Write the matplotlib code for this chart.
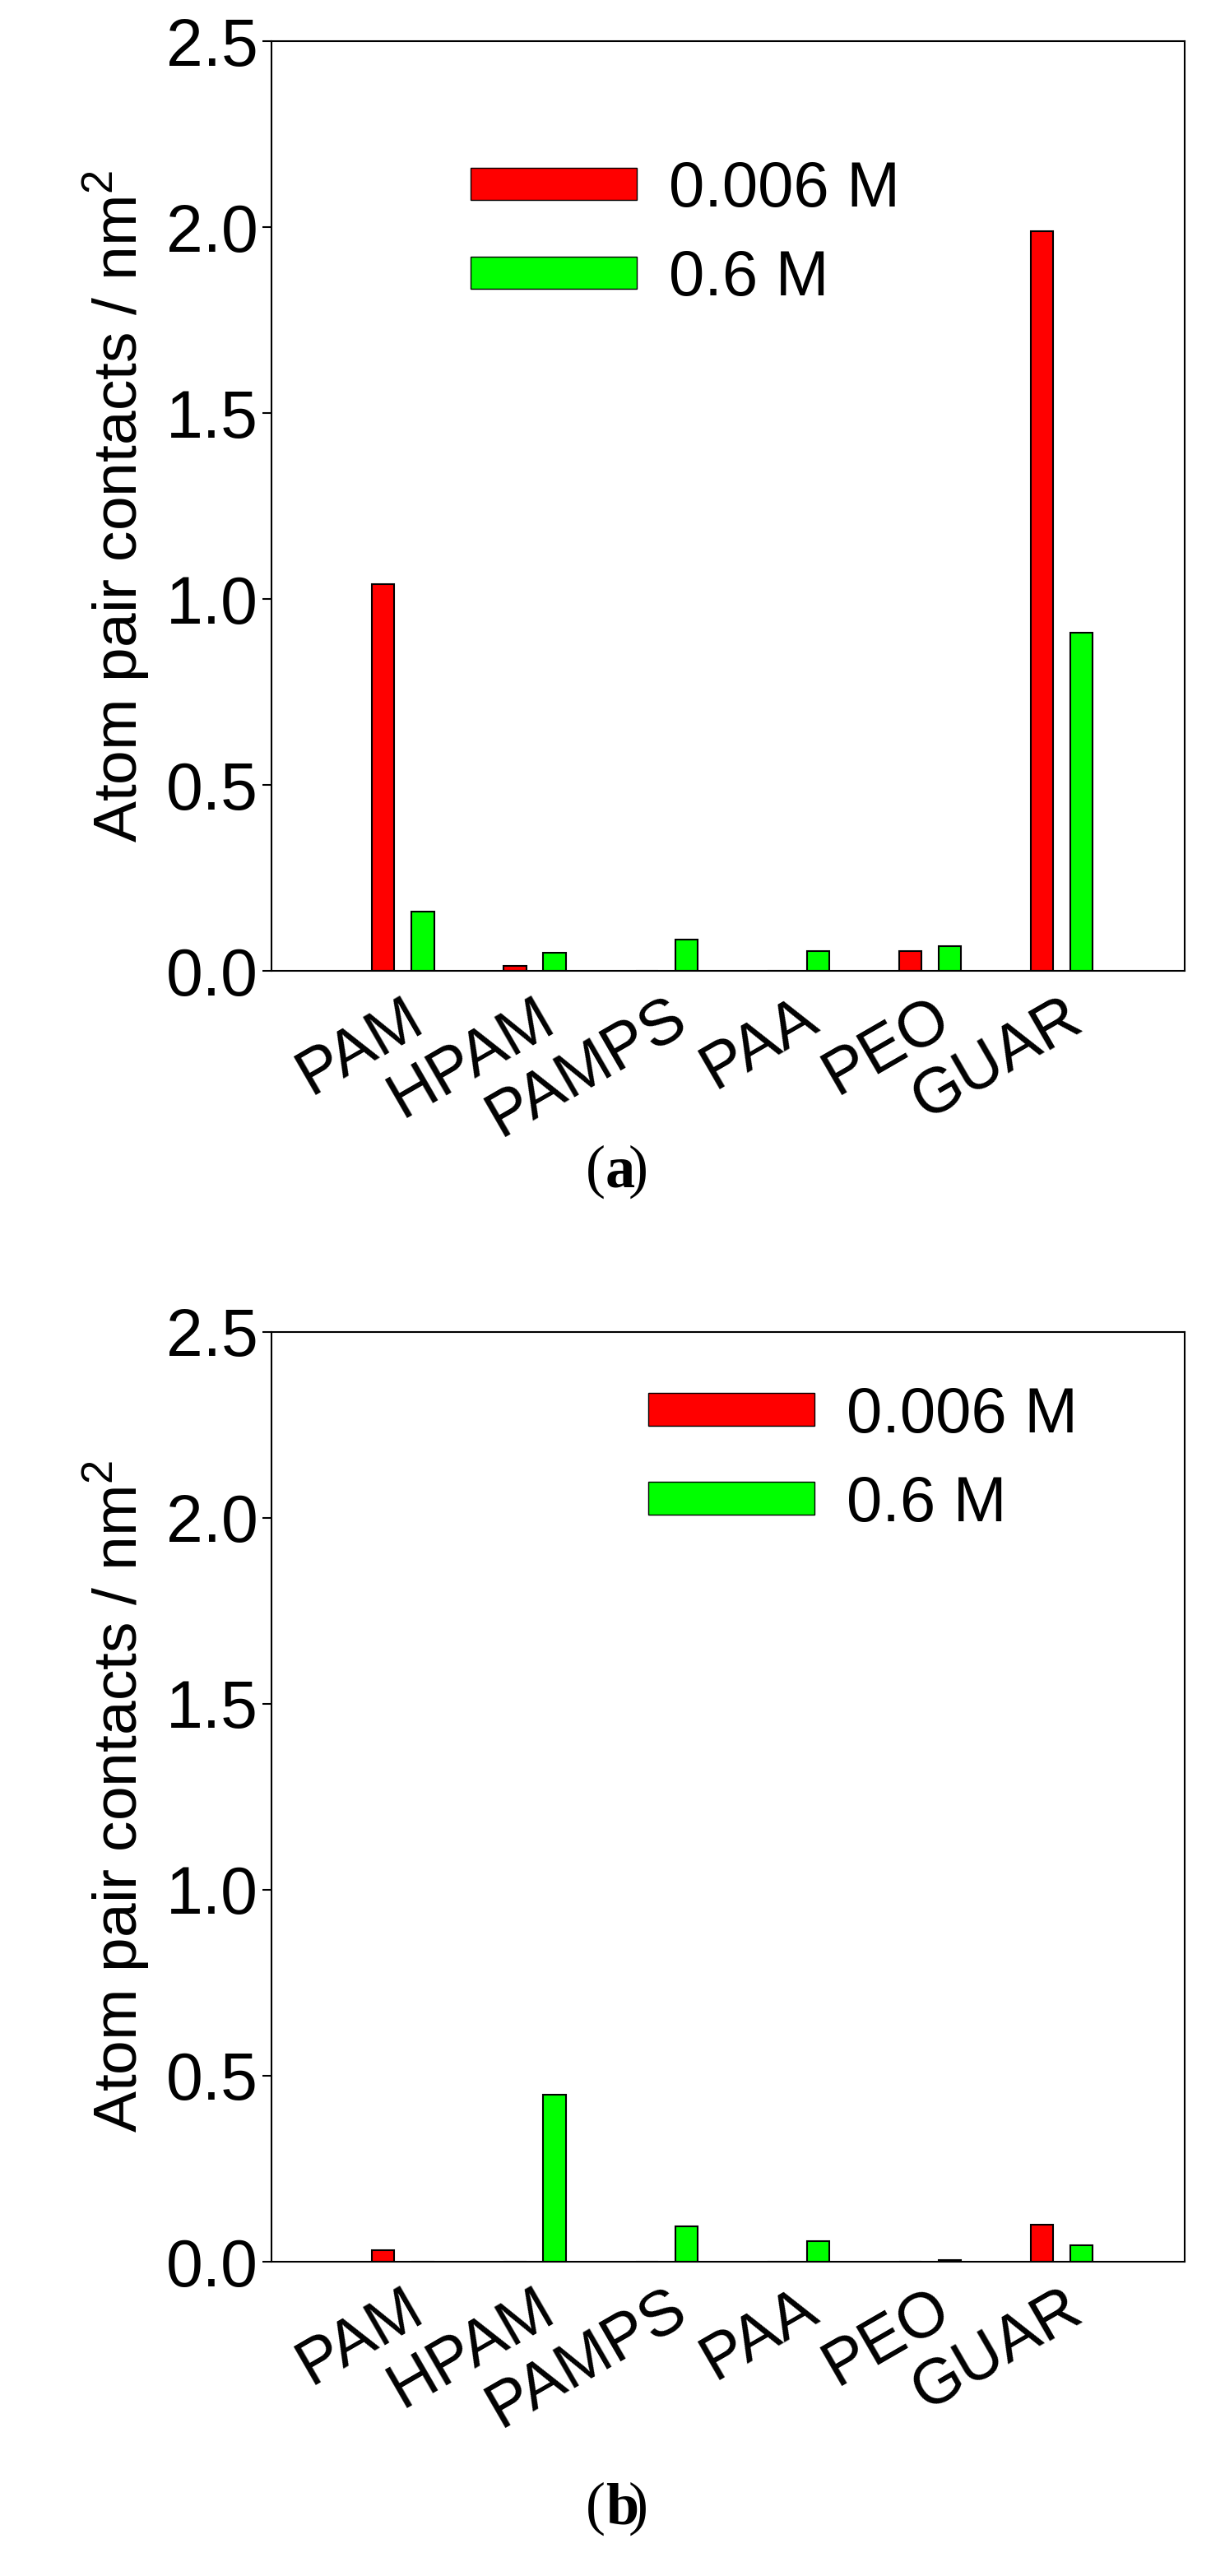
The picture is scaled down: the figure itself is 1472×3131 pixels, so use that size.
import matplotlib
matplotlib.use("Agg")
import matplotlib.pyplot as plt
import numpy as np
from matplotlib.patches import Patch

categories = ["PAM", "HPAM", "PAMPS", "PAA", "PEO", "GUAR"]
a_low = [1.04, 0.015, 0.0, 0.0, 0.055, 1.99]
a_high = [0.16, 0.05, 0.085, 0.055, 0.068, 0.91]
b_low = [0.03, 0.0, 0.0, 0.0, 0.0, 0.10]
b_high = [0.0, 0.45, 0.095, 0.055, 0.005, 0.045]
yticks = [0.0, 0.5, 1.0, 1.5, 2.0, 2.5]

plt.rcParams["font.family"] = "Liberation Sans"
plt.rcParams["mathtext.fontset"] = "custom"
plt.rcParams["mathtext.rm"] = "Liberation Sans"
fig = plt.figure(figsize=(14.72, 31.31), dpi=100)

def panel(rect, low, high, legxy, cap, capy):
    ax = fig.add_axes(rect)
    x = np.arange(len(categories))
    w = 0.17
    ax.bar(x - 0.15, low, w, color="#ff0000", edgecolor="black", linewidth=1.5)
    ax.bar(x + 0.15, high, w, color="#00ff00", edgecolor="black", linewidth=1.5)
    ax.set_xlim(-1, 5.93)
    ax.set_ylim(0, 2.5)
    ax.set_yticks(yticks)
    ax.set_yticklabels([f"{v:.1f}" for v in yticks], fontsize=58)
    ax.set_xticks(x)
    ax.set_xticklabels(categories, fontsize=56, rotation=30, ha="right", rotation_mode="anchor")
    ax.tick_params(axis="x", length=0, pad=14)
    ax.tick_params(axis="y", length=8, width=1.5, direction="out")
    for s in ax.spines.values():
        s.set_linewidth(1.5)
    ax.set_ylabel("Atom pair contacts / nm$^2$", fontsize=54, labelpad=12)
    handles = [Patch(facecolor="#ff0000", edgecolor="black"), Patch(facecolor="#00ff00", edgecolor="black")]
    ax.legend(handles, ["0.006 M", "0.6 M"], loc="upper left", bbox_to_anchor=legxy,
              fontsize=56, frameon=False, handlelength=2.6, handleheight=0.4,
              handletextpad=0.5, labelspacing=0.45, borderaxespad=0)
    t = fig.text(0.50, capy, "(", fontsize=52, family="Liberation Serif", ha="right", va="center")
    fig.text(0.50, capy, cap, fontsize=52, family="Liberation Serif", weight="bold", ha="left", va="center")
    fig.text(0.50 + 0.019, capy, ")", fontsize=52, family="Liberation Serif", ha="left", va="center")
    return ax

panel([0.224, 0.623, 0.754, 0.361], a_low, a_high, (0.19, 0.90), "a", 0.545)
panel([0.224, 0.122, 0.754, 0.361], b_low, b_high, (0.385, 0.97), "b", 0.026)

fig.savefig("out.png", dpi=100)
